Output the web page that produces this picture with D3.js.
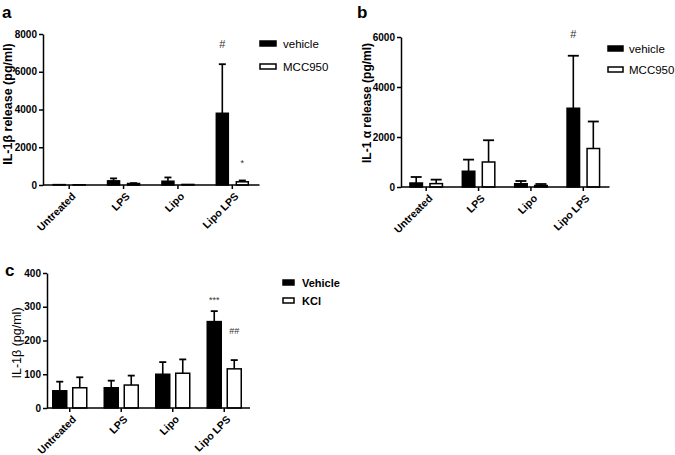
<!DOCTYPE html>
<html>
<head>
<meta charset="utf-8">
<style>
  body { margin: 0; background: #fff; }
  svg { font-family: "Liberation Sans", Arial, sans-serif; }
</style>
</head>
<body>
<svg width="675" height="455"></svg>
<script src="https://d3js.org/d3.v7.min.js"></script>
<script>
// categories shared by the three panels
var categories = ["Untreated", "LPS", "Lipo", "Lipo LPS"];

// panel a : IL-1b release (pg/ml)
var aVehicle = [20, 220, 200, 3800];
var aVehicleSem = [0, 130, 200, 2600];
var aMcc = [10, 80, 30, 170];
var aMccSem = [0, 20, 0, 70];
var aTicks = [0, 2000, 4000, 6000, 8000];
var aLegend = ["vehicle", "MCC950"];

// panel b : IL-1a release (pg/ml)
var bVehicle = [160, 630, 130, 3150];
var bVehicleSem = [240, 465, 110, 2100];
var bMcc = [135, 1000, 60, 1540];
var bMccSem = [160, 870, 60, 1080];
var bTicks = [0, 2000, 4000, 6000];
var bLegend = ["vehicle", "MCC950"];

// panel c : IL-1b (pg/ml)
var cVehicle = [51, 60, 100, 256];
var cVehicleSem = [27, 21, 36, 31];
var cKcl = [60, 68, 103, 116];
var cKclSem = [31, 28, 41, 26];
var cTicks = [0, 100, 200, 300, 400];
var cLegend = ["Vehicle", "KCl"];

var svg = d3.select("svg");
var defs = svg.append("defs");

function drawPanel(p) {
  var g = svg.append("g");
  var x = d3.scaleBand().domain(categories).range(p.xRange);
  var y = d3.scaleLinear().domain([0, p.yMax]).range(p.yRange);
  var cx = function(c) { return x(c) + x.bandwidth() / 2; };

  // bars
  p.series.forEach(function(s, si) {
    var off = si == 0 ? -p.offset : p.offset;
    var rows = s.values.map(function(v, i) { return { c: categories[i], v: v, e: s.sem[i] }; });

    g.selectAll(".err" + si).data(rows).enter().append("line")
      .attr("x1", function(d) { return cx(d.c) + off; })
      .attr("x2", function(d) { return cx(d.c) + off; })
      .attr("y1", function(d) { return y(d.v); })
      .attr("y2", function(d) { return y(d.v + d.e); })
      .attr("stroke", "#000").attr("stroke-width", 1.6);
    g.selectAll(".cap" + si).data(rows.filter(function(d) { return d.e > 0; })).enter().append("line")
      .attr("x1", function(d) { return cx(d.c) + off - p.capW / 2; })
      .attr("x2", function(d) { return cx(d.c) + off + p.capW / 2; })
      .attr("y1", function(d) { return y(d.v + d.e); })
      .attr("y2", function(d) { return y(d.v + d.e); })
      .attr("stroke", "#000").attr("stroke-width", 1.8);

    g.selectAll(".bar" + si).data(rows).enter().append("rect")
      .attr("x", function(d) { return cx(d.c) + off - p.barW / 2; })
      .attr("y", function(d) { return y(d.v); })
      .attr("width", p.barW)
      .attr("height", function(d) { return p.yRange[0] - y(d.v); })
      .attr("fill", si == 0 ? "#000" : "#fff")
      .attr("stroke", "#000").attr("stroke-width", 1.5);
  });

  // y axis
  var yAxis = g.append("g").attr("transform", "translate(" + p.yAxisX + ",0)")
    .call(d3.axisLeft(y).tickValues(p.ticks).tickFormat(d3.format("d")).tickSize(4).tickSizeOuter(0).tickPadding(2));
  yAxis.selectAll("path, line").attr("stroke", "#000").attr("stroke-width", 1.5);
  yAxis.selectAll("text").attr("font-size", 10).attr("font-weight", "bold").attr("fill", "#000");

  // x axis (ticks only, labels drawn on diagonal paths below)
  var xAxis = g.append("g").attr("transform", "translate(0," + p.yRange[0] + ")")
    .call(d3.axisBottom(x).tickSize(4).tickSizeOuter(0).tickFormat(""));
  xAxis.select(".domain").remove();
  xAxis.append("line").attr("x1", p.yAxisX).attr("x2", p.xRange[1])
    .attr("stroke", "#000").attr("stroke-width", 1.5);
  xAxis.selectAll("line").attr("stroke", "#000").attr("stroke-width", 1.5);

  // 45 degree label paths ending just under each tick
  categories.forEach(function(c, i) {
    var ex = cx(c) + 7, ey = p.yRange[0] + 12, L = 90;
    defs.append("path")
      .attr("id", "cat-" + p.letter + "-" + i)
      .attr("d", "M" + (ex - L) + "," + (ey + L) + " L" + ex + "," + ey);
  });
  g.selectAll(".cat").data(categories).enter().append("text")
    .attr("class", "cat")
    .attr("font-size", 10.5).attr("font-weight", "bold")
    .append("textPath")
    .attr("href", function(d, i) { return "#cat-" + p.letter + "-" + i; })
    .attr("startOffset", "100%")
    .attr("text-anchor", "end")
    .text(function(d) { return d; });

  // y label
  g.append("text")
    .attr("transform", "translate(" + p.yLabelX + "," + p.yLabelY + ") rotate(-90)")
    .attr("text-anchor", "middle")
    .attr("font-size", p.yLabelSize).attr("font-weight", p.yLabelWeight)
    .text(p.yLabel);

  // significance marks
  p.marks.forEach(function(m) {
    g.append("text")
      .attr("x", cx(categories[m.cat]) + (m.series == 0 ? -p.offset : p.offset))
      .attr("y", y(m.v))
      .attr("text-anchor", "middle")
      .attr("font-size", m.size)
      .attr("fill", "#333")
      .text(m.t);
  });

  // legend
  p.legend.forEach(function(name, i) {
    g.append("rect")
      .attr("x", p.legX).attr("y", p.legY + i * p.legStep)
      .attr("width", p.legW).attr("height", 5)
      .attr("fill", i == 0 ? "#000" : "#fff")
      .attr("stroke", "#000").attr("stroke-width", 1.5);
    g.append("text")
      .attr("x", p.legX + p.legW + p.legGap).attr("y", p.legY + i * p.legStep + 7)
      .attr("font-size", p.legSize).attr("font-weight", p.legWeight)
      .attr("font-family", p.legFont)
      .text(name);
  });

  // panel letter
  g.append("text").attr("x", p.letterX).attr("y", p.letterY)
    .attr("font-size", 17).attr("font-weight", "bold")
    .attr("font-family", p.letterFont)
    .text(p.letter);
}

drawPanel({
  series: [{ values: aVehicle, sem: aVehicleSem }, { values: aMcc, sem: aMccSem }],
  xRange: [42, 259.5], yRange: [185, 34], yMax: 8000, yAxisX: 43, ticks: aTicks,
  barW: 12, offset: 10, capW: 7,
  yLabel: "IL-1\u03b2 release (pg/ml)", yLabelX: 12, yLabelY: 104, yLabelSize: 12.5, yLabelWeight: "bold",
  marks: [{ cat: 3, series: 0, v: 7250, t: "#", size: 11 }, { cat: 3, series: 1, v: 1000, t: "*", size: 9 }],
  legend: aLegend, legX: 260, legY: 41, legStep: 23, legW: 16, legGap: 7, legSize: 11.5, legWeight: "normal",
  legFont: "Liberation Sans, Arial, sans-serif",
  letter: "a", letterX: 2, letterY: 18, letterFont: "Liberation Sans, Arial, sans-serif"
});

drawPanel({
  series: [{ values: bVehicle, sem: bVehicleSem }, { values: bMcc, sem: bMccSem }],
  xRange: [400, 609.5], yRange: [187, 37], yMax: 6000, yAxisX: 401, ticks: bTicks,
  barW: 12.5, offset: 10, capW: 11,
  yLabel: "IL-1 \u03b1 release (pg/ml)", yLabelX: 371, yLabelY: 103, yLabelSize: 12, yLabelWeight: "bold",
  marks: [{ cat: 3, series: 0, v: 5950, t: "#", size: 11 }],
  legend: bLegend, legX: 608, legY: 46, legStep: 21, legW: 15, legGap: 6, legSize: 11.5, legWeight: "normal",
  legFont: "Liberation Sans, Arial, sans-serif",
  letter: "b", letterX: 357, letterY: 18, letterFont: "Liberation Sans, Arial, sans-serif"
});

drawPanel({
  series: [{ values: cVehicle, sem: cVehicleSem }, { values: cKcl, sem: cKclSem }],
  xRange: [44, 250], yRange: [408, 273], yMax: 400, yAxisX: 47, ticks: cTicks,
  barW: 14, offset: 10, capW: 7,
  yLabel: "IL-1\u03b2 (pg/ml)", yLabelX: 21, yLabelY: 343, yLabelSize: 12.5, yLabelWeight: "normal",
  marks: [{ cat: 3, series: 0, v: 312, t: "***", size: 9 }, { cat: 3, series: 1, v: 220, t: "##", size: 9 }],
  legend: cLegend, legX: 283, legY: 280, legStep: 18, legW: 11, legGap: 8, legSize: 11, legWeight: "bold",
  legFont: "Liberation Sans Narrow, Liberation Sans, Arial, sans-serif",
  letter: "c", letterX: 5, letterY: 276, letterFont: "Liberation Sans Narrow, Liberation Sans, sans-serif"
});
</script>
</body>
</html>
